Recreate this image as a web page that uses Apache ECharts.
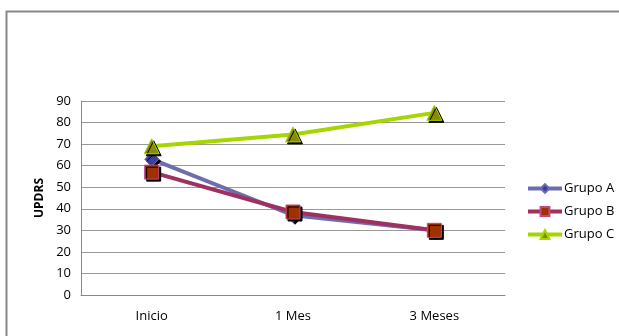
<!DOCTYPE html>
<html><head><meta charset="utf-8">
<script src="https://cdn.jsdelivr.net/npm/echarts@6/dist/echarts.min.js"></script>
<style>html,body{margin:0;padding:0;background:#fff}#c{width:619px;height:336px}</style>
</head><body><div id="c"></div>
<script>
var categories = ['Inicio', '1 Mes', '3 Meses'];
var grupoA = [63, 37, 30];
var grupoB = [57, 38.5, 30];
var grupoC = [69, 74.5, 84.5];
var yTicks = [0, 90, 10];

var chart = echarts.init(document.getElementById('c'));
var font = '"Open Sans", "Noto Sans", sans-serif';
function s(name, data, lineColor, symbol, fill, border, size) {
  return {
    name: name, type: 'line', data: data, symbol: symbol, symbolSize: size,
    lineStyle: {color: lineColor, width: 4},
    itemStyle: {color: fill, borderColor: border, borderWidth: 1,
      shadowColor: 'rgba(0,0,0,1)', shadowOffsetX: 2, shadowOffsetY: 2, shadowBlur: 0},
    color: lineColor,
    emphasis: {disabled: true}
  };
}
function leg(name, color, lineColor) {
  return {name: name, itemStyle: {color: color, shadowOffsetX: 0, shadowOffsetY: 0, shadowColor: 'transparent'},
    lineStyle: {color: lineColor, width: 4}};
}
chart.setOption({
  animation: false,
  textStyle: {fontFamily: font},
  graphic: [{type: 'rect', shape: {x: 6.5, y: 11.5, width: 700, height: 400},
    style: {fill: 'none', stroke: '#888', lineWidth: 2}}],
  grid: {left: 81, top: 101, right: 114, bottom: 41},
  legend: {
    orient: 'vertical', left: 521, top: 177, itemGap: 10, itemWidth: 34, itemHeight: 11,
    textStyle: {fontSize: 13, color: '#000', fontFamily: font, padding: [0, 0, 0, -3]},
    data: [
      leg('Grupo A', '#3E3EA0', '#6E6EAE'),
      leg('Grupo B', '#A03000', '#A0305F'),
      leg('Grupo C', '#8B8B00', '#A6D600')
    ]
  },
  xAxis: {
    type: 'category', data: categories, boundaryGap: true,
    axisLine: {lineStyle: {color: '#888', width: 1}},
    axisTick: {show: false},
    axisLabel: {color: '#000', fontSize: 13, margin: 15, fontFamily: font}
  },
  yAxis: {
    type: 'value', min: yTicks[0], max: yTicks[1], interval: yTicks[2],
    name: 'UPDRS', nameLocation: 'middle', nameGap: 34,
    nameTextStyle: {fontWeight: 'bold', fontSize: 12, color: '#000', fontFamily: font},
    axisLine: {show: true, lineStyle: {color: '#888', width: 1}},
    axisTick: {show: false},
    axisLabel: {color: '#000', fontSize: 13, margin: 10, fontFamily: font},
    splitLine: {lineStyle: {color: '#999', width: 1}}
  },
  series: [
    s('Grupo A', grupoA, '#6E6EAE', 'diamond', '#3E3EA0', '#6E6EAE', 14),
    s('Grupo B', grupoB, '#A0305F', 'rect', '#A03000', '#C04880', 14),
    s('Grupo C', grupoC, '#A6D600', 'triangle', '#8B8B00', '#A6D600', 15)
  ]
});
</script></body></html>
